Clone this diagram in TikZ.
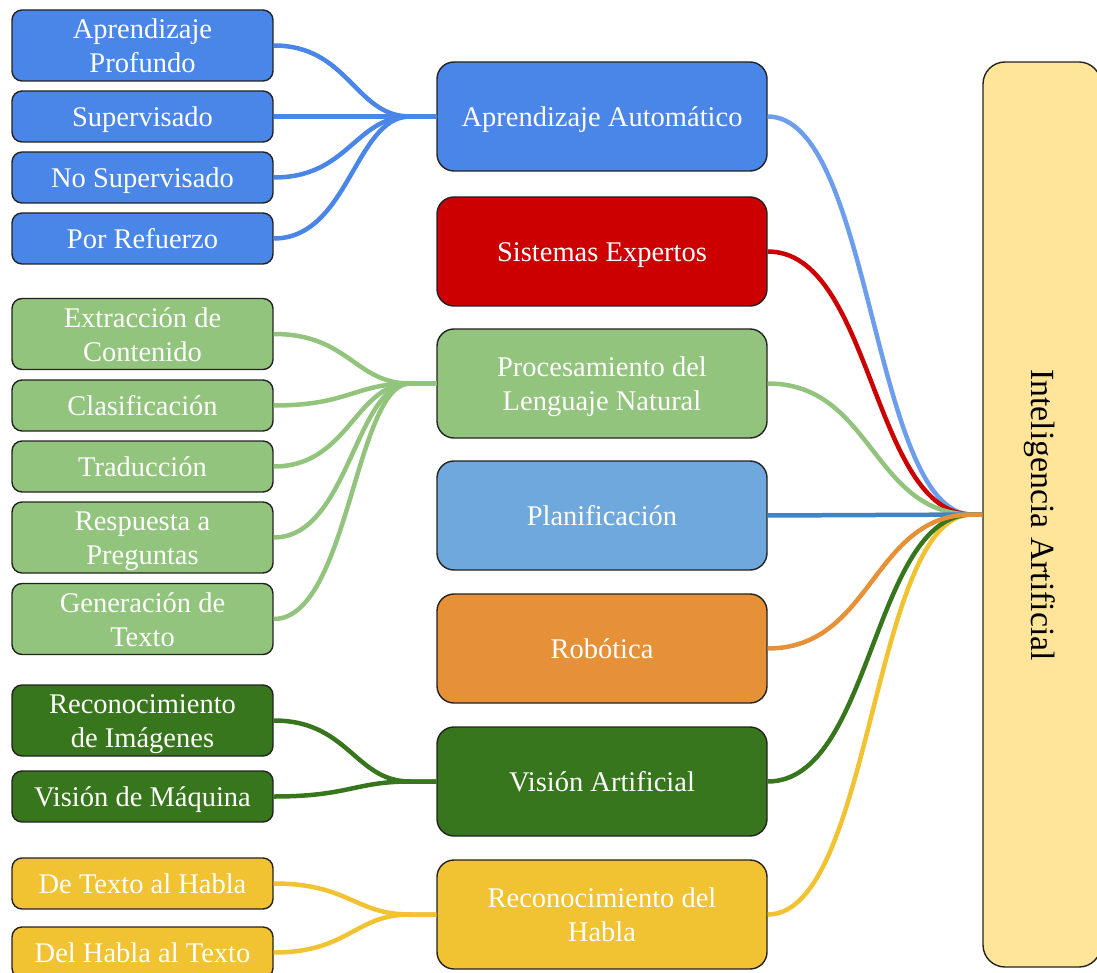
\documentclass[tikz,border=0pt]{standalone}
\usepackage{fontspec}
\setmainfont{Liberation Serif}
\definecolor{mlblue}{HTML}{4A86E8}
\definecolor{mllink}{HTML}{6D9EEB}
\definecolor{sered}{HTML}{CC0000}
\definecolor{nlpgreen}{HTML}{93C47D}
\definecolor{planblue}{HTML}{6FA8DC}
\definecolor{planlink}{HTML}{3D85C6}
\definecolor{robor}{HTML}{E69138}
\definecolor{visgreen}{HTML}{38761D}
\definecolor{speechy}{HTML}{F1C232}
\definecolor{aiyellow}{HTML}{FFE599}
\definecolor{edge}{HTML}{222222}
% box label: centred lines, set a little below the geometric centre
\newcommand{\lbl}[1]{\raisebox{-3.5pt}[\height][\depth]{\begin{tabular}{@{}c@{}}#1\end{tabular}}}
\begin{document}
\begin{tikzpicture}[x=1pt,y=-1pt,
  box/.style={draw=edge, line width=1.4pt, rounded corners=10pt, text=white,
    align=center, inner sep=0pt, font=\fontsize{28.5}{34}\selectfont},
  leaf/.style={box, minimum width=261pt, minimum height=51pt},
  leaftall/.style={leaf, minimum height=71pt},
  branch/.style={box, minimum width=330pt, minimum height=109pt, rounded corners=17pt},
  link/.style={line width=4.5pt}
]
\useasboundingbox (0,0) rectangle (1097,973);
\clip (0,0) rectangle (1097,973);

% root
\node[box, draw=edge, fill=aiyellow, text=black, rounded corners=22pt,
  minimum width=118pt, minimum height=905pt]
  (ia) at (1042,514.5) {};
\node[rotate=-90, font=\fontsize{33.8}{40}\selectfont, text=black] (iat) at (1040,515) {Inteligencia Artificial};

% middle column
\node[branch, fill=mlblue]    (aa)   at (602,116.5) {\lbl{Aprendizaje Automático}};
\node[branch, fill=sered]     (se)   at (602,251.5) {\lbl{Sistemas Expertos}};
\node[branch, fill=nlpgreen]  (pln)  at (602,383.5) {\lbl{Procesamiento del\\Lenguaje Natural}};
\node[branch, fill=planblue]  (plan) at (602,515.5) {\lbl{Planificación}};
\node[branch, fill=robor]     (rob)  at (602,648.5) {\lbl{Robótica}};
\node[branch, fill=visgreen]  (va)   at (602,781.5) {\lbl{Visión Artificial}};
\node[branch, fill=speechy]   (rh)   at (602,914.5) {\lbl{Reconocimiento del\\Habla}};

% left column
\node[leaftall, fill=mlblue]  (ap)  at (142.5,45.5)  {\lbl{Aprendizaje\\Profundo}};
\node[leaf, fill=mlblue]      (sup) at (142.5,116.5) {\lbl{Supervisado}};
\node[leaf, fill=mlblue]      (nos) at (142.5,177.5) {\lbl{No Supervisado}};
\node[leaf, fill=mlblue]      (pr)  at (142.5,238.5) {\lbl{Por Refuerzo}};

\node[leaftall, fill=nlpgreen] (ec)  at (142.5,334)   {\lbl{Extracción de\\Contenido}};
\node[leaf, fill=nlpgreen]     (cla) at (142.5,405.5) {\lbl{Clasificación}};
\node[leaf, fill=nlpgreen]     (tra) at (142.5,466.5) {\lbl{Traducción}};
\node[leaftall, fill=nlpgreen] (rp)  at (142.5,537.5) {\lbl{Respuesta a\\Preguntas}};
\node[leaftall, fill=nlpgreen] (gt)  at (142.5,619)   {\lbl{Generación de\\Texto}};

\node[leaftall, fill=visgreen] (ri) at (142.5,720.5) {\lbl{Reconocimiento\\de Imágenes}};
\node[leaf, fill=visgreen]     (vm) at (142.5,796.5) {\lbl{Visión de Máquina}};

\node[leaf, fill=speechy] (dth) at (142.5,883.5) {\lbl{De Texto al Habla}};
\node[leaf, fill=speechy] (dht) at (142.5,952.5) {\lbl{Del Habla al Texto}};

% junction points where the fans merge
\coordinate (jaa)  at (410,116.5);
\coordinate (jpln) at (410,383.5);
\coordinate (jva)  at (410,781.5);
\coordinate (jrh)  at (410,914.5);
\coordinate (jia)  at (972,514.5);

% left fans
\foreach \n in {ap,sup,nos,pr}
  \draw[link, mlblue] (\n.east) .. controls +(75,0) and +(-55,0) .. (jaa) -- (aa.west);
\foreach \n in {ec,cla,tra,rp,gt}
  \draw[link, nlpgreen] (\n.east) .. controls +(75,0) and +(-55,0) .. (jpln) -- (pln.west);
\foreach \n in {ri,vm}
  \draw[link, visgreen] (\n.east) .. controls +(75,0) and +(-55,0) .. (jva) -- (va.west);
\foreach \n in {dth,dht}
  \draw[link, speechy] (\n.east) .. controls +(75,0) and +(-55,0) .. (jrh) -- (rh.west);

% links to the root
\draw[link, mllink]   (aa.east)  .. controls +(105,0) and +(-100,0) .. (jia) -- (ia.west);
\draw[link, sered]    (se.east)  .. controls +(105,0) and +(-100,0) .. (jia) -- (ia.west);
\draw[link, nlpgreen] (pln.east) .. controls +(105,0) and +(-100,0) .. (jia) -- (ia.west);
\draw[link, speechy]  (rh.east)  .. controls +(105,0) and +(-100,0) .. (jia) -- (ia.west);
\draw[link, visgreen] (va.east)  .. controls +(105,0) and +(-100,0) .. (jia) -- (ia.west);
\draw[link, planlink] (plan.east) -- (ia.west);
\draw[link, robor]    (rob.east) .. controls +(105,0) and +(-100,0) .. (jia) -- (ia.west);
\end{tikzpicture}
\end{document}
